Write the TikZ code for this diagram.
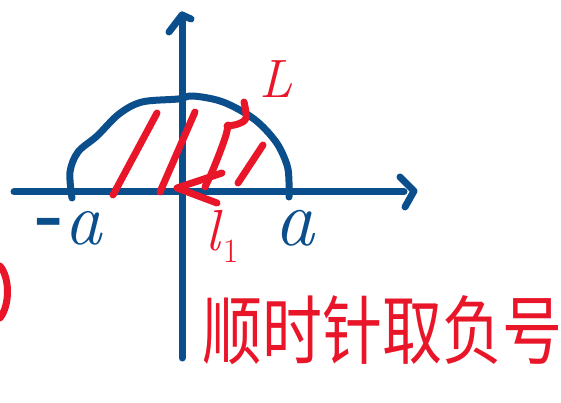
\documentclass[tikz,border=0pt]{standalone}
\usepackage{fontspec}
\newfontfamily\cjk{Noto Sans CJK SC}
\definecolor{inkblue}{RGB}{10,78,140}
\definecolor{inkred}{RGB}{232,22,40}
\begin{document}
\begin{tikzpicture}[x=1pt,y=-1pt,
  blueink/.style={draw=inkblue,line width=7pt,line cap=round,line join=round},
  redink/.style={draw=inkred,line width=7pt,line cap=round,line join=round},
  bluelabel/.style={text=inkblue,inner sep=0pt},
  redlabel/.style={text=inkred,inner sep=0pt}]
\useasboundingbox (0,0) rectangle (561,403);
% axes
\coordinate (xl) at (14,192);
\coordinate (xr) at (404,192);
\coordinate (yb) at (182,358);
\coordinate (yt) at (182,15);
\draw[blueink] (xl) -- (xr);
\draw[blueink] (yb) -- (yt);
\draw[blueink] (400,177) -- (414,191) -- (405,207);
\draw[blueink] (169,32) -- (yt) -- (191,19);
% boundary curve L
\draw[blueink] plot[smooth,tension=0.55] coordinates {(72,198) (70,172) (78,152) (97,136) (119,114) (142,102) (178,99) (193,96) (223,102) (254,119) (276,142) (287,165) (289,182) (289,197)};
% red hatching
\draw[redink] (113,195) -- (157,113);
\draw[redink] (160,192) -- (195,112);
\draw[redink] plot[smooth,tension=0.6] coordinates {(205,187) (212,172) (220,152) (226,135) (228,125)};
\draw[redink] plot[smooth,tension=0.6] coordinates {(227,126) (238,124) (246,118) (244,102)};
\draw[redink] (263,145) -- (238,183);
% red arrow along l1
\draw[redink] (222,173) -- (177,188) -- (217,203);
% red arc at left edge
\draw[redink] (0,266) .. controls (10,278) and (10,305) .. (0,318);
% labels
\node[bluelabel,font=\fontsize{75}{75}\selectfont] (ma) at (70,228) {\raisebox{6pt}{\bfseries -}\textit{a}};
\node[bluelabel,font=\fontsize{80}{80}\selectfont] (pa) at (295,228) {\textit{a}};
\node[redlabel,font=\fontsize{58}{58}\selectfont] (l1) at (222,236) {\textit{l}\raisebox{-12pt}{\fontsize{34}{34}\selectfont 1}};
\node[redlabel,font=\fontsize{54}{54}\selectfont] (L) at (276,79) {\textit{L}};
\node[redlabel,font=\cjk\fontsize{60}{60}\selectfont] (txt) at (382,330) {\scalebox{1}[1.25]{顺时针取负号}};
\end{tikzpicture}
\end{document}
